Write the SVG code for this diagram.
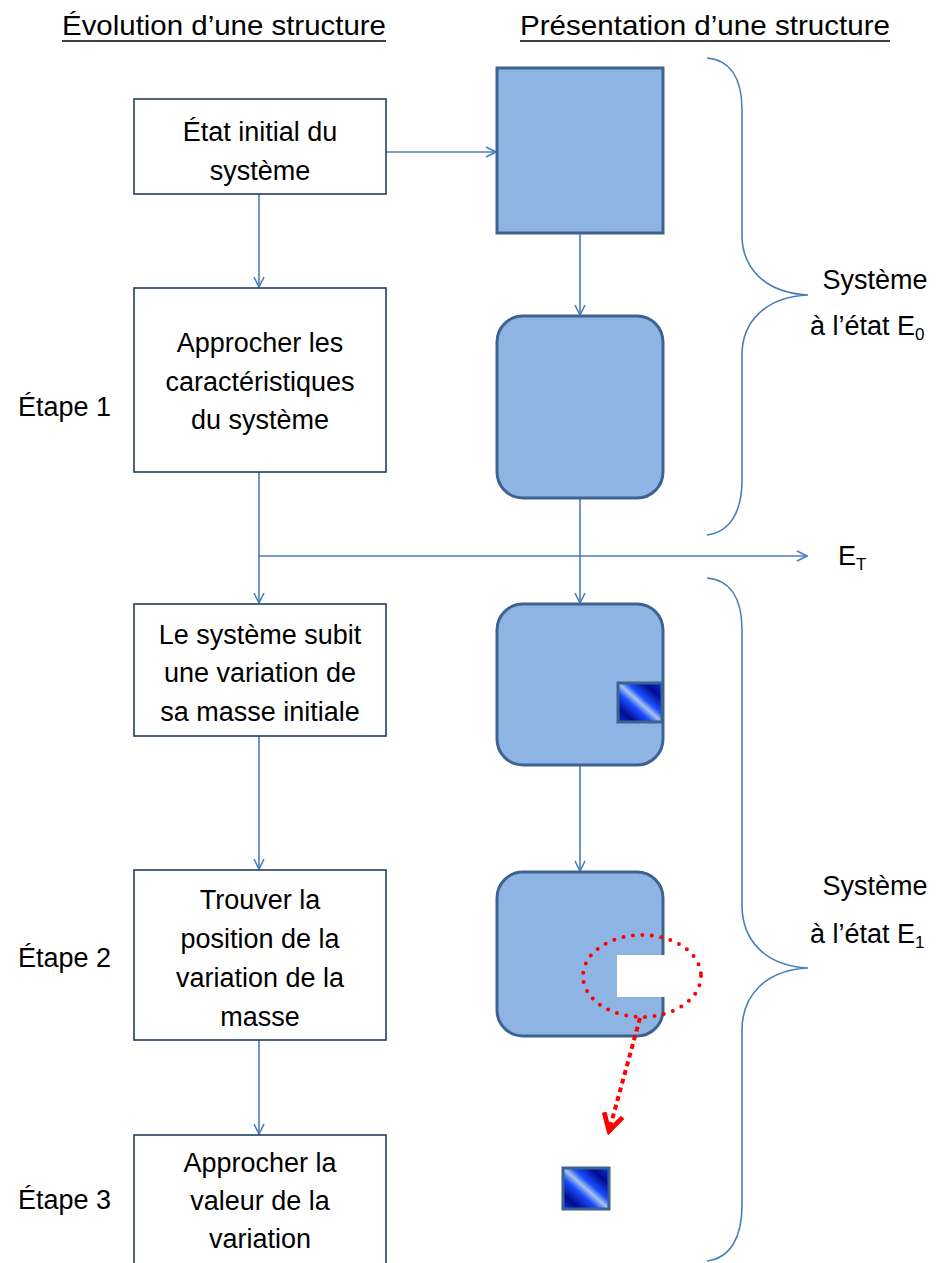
<svg xmlns="http://www.w3.org/2000/svg" width="948" height="1263" viewBox="0 0 948 1263">
<defs>
<style>
text{font-family:"Liberation Sans",Arial,sans-serif;fill:#000;}
.t{font-size:28px;}
.b{font-size:27px;text-anchor:middle;}
.l{font-size:27px;}
.box{fill:#fff;stroke:#243F60;stroke-width:1.6;}
.sh{fill:#8EB4E3;stroke:#3E6290;stroke-width:3;}
.con{fill:none;stroke:#4A7EBB;stroke-width:1.6;}
.br{fill:none;stroke:#4A7EBB;stroke-width:1.6;}
</style>
<marker id="ar" viewBox="0 0 12 12" refX="11" refY="6" markerWidth="12" markerHeight="12" markerUnits="userSpaceOnUse" orient="auto">
<path d="M1,1 L11,6 L1,11" fill="none" stroke="#4A7EBB" stroke-width="1.6"/>
</marker>
<marker id="rar" viewBox="0 0 20 20" refX="17" refY="10" markerWidth="24" markerHeight="24" markerUnits="userSpaceOnUse" orient="auto">
<path d="M3,2 L17,10 L3,18" fill="none" stroke="#FF0000" stroke-width="4" stroke-linejoin="miter"/>
</marker>
<linearGradient id="g" x1="0" y1="1" x2="1" y2="0">
<stop offset="0" stop-color="#0038E0"/>
<stop offset="0.18" stop-color="#000A8C"/>
<stop offset="0.38" stop-color="#1A4CFF"/>
<stop offset="0.5" stop-color="#A8C4EC"/>
<stop offset="0.6" stop-color="#1A50FF"/>
<stop offset="0.8" stop-color="#000A90"/>
<stop offset="1" stop-color="#0038E0"/>
</linearGradient>
</defs>
<rect width="948" height="1263" fill="#fff"/>

<g id="titles">
<text class="t" x="62" y="35" textLength="324" lengthAdjust="spacingAndGlyphs">Évolution d’une structure</text>
<line x1="62" y1="41" x2="386" y2="41" stroke="#000" stroke-width="1.5"/>
<text class="t" x="520" y="35" textLength="370" lengthAdjust="spacingAndGlyphs">Présentation d’une structure</text>
<line x1="520" y1="41" x2="890" y2="41" stroke="#000" stroke-width="1.5"/>
</g>

<g id="connectors">
<line class="con" x1="386" y1="152" x2="496" y2="152" marker-end="url(#ar)"/>
<line class="con" x1="259" y1="194" x2="259" y2="287" marker-end="url(#ar)"/>
<line class="con" x1="259" y1="472" x2="259" y2="603" marker-end="url(#ar)"/>
<line class="con" x1="259" y1="556" x2="807" y2="556" marker-end="url(#ar)"/>
<line class="con" x1="259" y1="736" x2="259" y2="869" marker-end="url(#ar)"/>
<line class="con" x1="259" y1="1040" x2="259" y2="1134" marker-end="url(#ar)"/>
<line class="con" x1="580" y1="234" x2="580" y2="315" marker-end="url(#ar)"/>
<line class="con" x1="580" y1="499" x2="580" y2="603" marker-end="url(#ar)"/>
<line class="con" x1="580" y1="766" x2="580" y2="871" marker-end="url(#ar)"/>
</g>

<g id="box1">
<rect class="box" x="134" y="99" width="252" height="95"/>
<text class="b" x="260" y="141">État initial du</text>
<text class="b" x="260" y="180">système</text>
</g>
<g id="box2">
<rect class="box" x="134" y="288" width="252" height="184"/>
<text class="b" x="260" y="352">Approcher les</text>
<text class="b" x="260" y="391">caractéristiques</text>
<text class="b" x="260" y="429">du système</text>
</g>
<g id="box3">
<rect class="box" x="134" y="604" width="252" height="132"/>
<text class="b" x="260" y="644">Le système subit</text>
<text class="b" x="260" y="682">une variation de</text>
<text class="b" x="260" y="721">sa masse initiale</text>
</g>
<g id="box4">
<rect class="box" x="134" y="870" width="252" height="170"/>
<text class="b" x="260" y="909">Trouver la</text>
<text class="b" x="260" y="948">position de la</text>
<text class="b" x="260" y="987">variation de la</text>
<text class="b" x="260" y="1026">masse</text>
</g>
<g id="box5">
<rect class="box" x="134" y="1135" width="252" height="140"/>
<text class="b" x="260" y="1172">Approcher la</text>
<text class="b" x="260" y="1210">valeur de la</text>
<text class="b" x="260" y="1248">variation</text>
</g>

<g id="steps">
<text class="l" x="18" y="416">Étape 1</text>
<text class="l" x="18" y="967">Étape 2</text>
<text class="l" x="18" y="1209">Étape 3</text>
</g>

<g id="shape1"><rect class="sh" x="497" y="68" width="166" height="165"/></g>
<g id="shape2"><rect class="sh" x="497" y="316" width="166" height="182" rx="26"/></g>
<g id="shape3">
<rect class="sh" x="497" y="604" width="166" height="161" rx="26"/>
<rect x="618" y="683" width="44" height="39" fill="url(#g)" stroke="#3E6290" stroke-width="3"/>
</g>
<g id="shape4">
<rect class="sh" x="497" y="872" width="166" height="164" rx="26"/>
<rect x="617" y="955" width="48" height="42" fill="#fff"/>
</g>
<g id="dotted">
<ellipse cx="642" cy="976" rx="59" ry="41" fill="none" stroke="#FF0000" stroke-width="4" stroke-dasharray="0 9.5" stroke-linecap="round"/>
<line x1="640" y1="1018" x2="609" y2="1131" stroke="#FF0000" stroke-width="4" stroke-dasharray="5 4" marker-end="url(#rar)"/>
</g>
<g id="icon"><rect x="563" y="1168" width="46" height="41" fill="url(#g)" stroke="#3E6290" stroke-width="3"/></g>

<g id="brace1">
<path class="br" d="M707,58 C730,60 742,78 742,110 L742,235 C742,268 765,293 808,295 C765,297 742,322 742,355 L742,480 C742,512 730,532 707,535"/>
<text class="l" x="875" y="289" text-anchor="middle">Système</text>
<text class="l" x="810" y="335">à l’état E<tspan font-size="17" dy="5">0</tspan></text>
</g>
<g id="brace2">
<path class="br" d="M707,578 C730,580 742,598 742,630 L742,905 C742,940 765,966 808,968 C765,970 742,996 742,1030 L742,1205 C742,1238 730,1258 707,1261"/>
<text class="l" x="875" y="895" text-anchor="middle">Système</text>
<text class="l" x="810" y="943">à l’état E<tspan font-size="17" dy="5">1</tspan></text>
</g>
<g id="et">
<text class="l" x="838" y="565">E<tspan font-size="17" dy="5">T</tspan></text>
</g>
</svg>
